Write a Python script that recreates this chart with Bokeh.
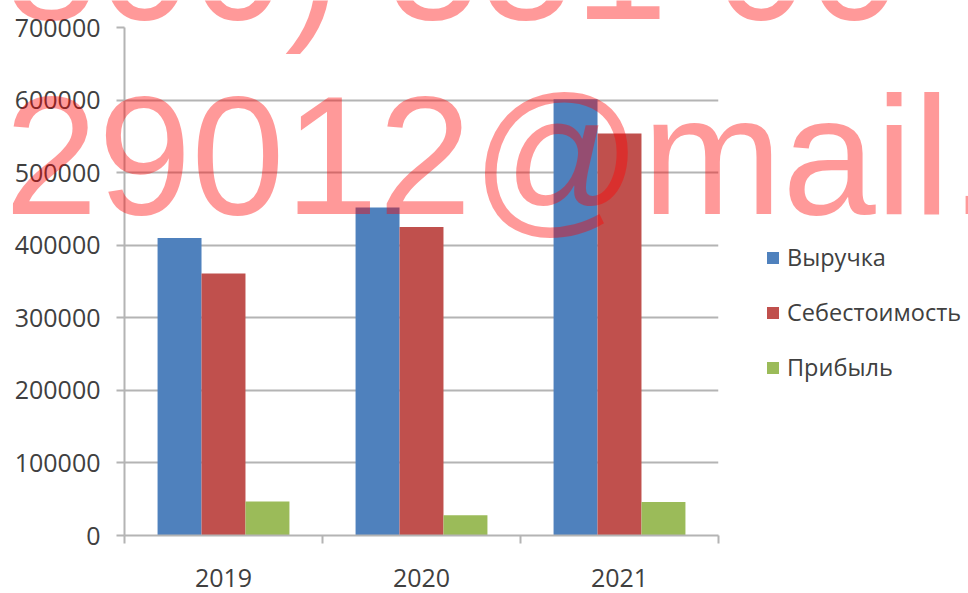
import numpy as np
from bokeh.plotting import figure
from bokeh.models import (Range1d, FixedTicker, Legend, LegendItem,
                          Label, ColumnDataSource, BasicTickFormatter)
from bokeh.transform import dodge
from bokeh.embed import file_html
from bokeh.resources import INLINE

# ---- data ----
years = ["2019", "2020", "2021"]
revenue = [410000, 452000, 601000]
cost = [361000, 425000, 554000]
profit = [47000, 28000, 46000]
series_names = ["Выручка", "Себестоимость", "Прибыль"]
series_colors = ["#4F81BD", "#C0504D", "#9BBB59"]
y_ticks = [0, 100000, 200000, 300000, 400000, 500000, 600000, 700000]
watermark_lines = ["800) 551 00", "29012@mail."]

FONT = "Open Sans"
TXT = "#404040"
GRID = "#b4b4b4"
W, H = 968, 593

centers = np.arange(len(years)) + 0.5
bar_w = 0.222
offsets = [-bar_w, 0.0, bar_w]

src = ColumnDataSource(dict(x=centers, rev=revenue, cost=cost, profit=profit))

p = figure(frame_width=594, frame_height=508,
           x_range=Range1d(0, len(years)), y_range=Range1d(0, y_ticks[-1]),
           output_backend="svg", toolbar_location=None,
           min_border_left=124, min_border_top=27, min_border_right=250,
           min_border_bottom=58)
p.outline_line_color = None
p.background_fill_color = "white"

renderers = []
for field, off, col in zip(["rev", "cost", "profit"], offsets, series_colors):
    r = p.vbar(x=dodge("x", off), top=field, width=bar_w, source=src,
               fill_color=col, line_color=None)
    renderers.append(r)

# y axis
p.yaxis.ticker = FixedTicker(ticks=y_ticks)
p.yaxis.formatter = BasicTickFormatter(use_scientific=False)
p.yaxis.axis_line_color = GRID
p.yaxis.axis_line_width = 2
p.yaxis.major_tick_line_color = GRID
p.yaxis.major_tick_line_width = 2
p.yaxis.major_tick_out = 8
p.yaxis.major_tick_in = 0
p.yaxis.minor_tick_line_color = None
p.yaxis.major_label_text_font = FONT
p.yaxis.major_label_text_font_size = "25px"
p.yaxis.major_label_text_color = TXT
p.yaxis.major_label_standoff = 16

p.ygrid.ticker = FixedTicker(ticks=y_ticks)
p.ygrid.grid_line_color = GRID
p.ygrid.grid_line_width = 2
p.xgrid.visible = False

# x axis: labels at category centres, tick marks at category boundaries
p.xaxis.ticker = FixedTicker(ticks=list(centers),
                             minor_ticks=list(range(len(years) + 1)))
p.xaxis.major_label_overrides = {float(c): y for c, y in zip(centers, years)}
p.xaxis.axis_line_color = GRID
p.xaxis.axis_line_width = 2
p.xaxis.major_tick_line_color = None
p.xaxis.major_tick_out = 0
p.xaxis.major_tick_in = 0
p.xaxis.minor_tick_line_color = GRID
p.xaxis.minor_tick_line_width = 2
p.xaxis.minor_tick_out = 8
p.xaxis.minor_tick_in = 0
p.xaxis.major_label_text_font = FONT
p.xaxis.major_label_text_font_size = "25px"
p.xaxis.major_label_text_color = TXT
p.xaxis.major_label_standoff = 25

legend = Legend(items=[LegendItem(label=n, renderers=[r]) for n, r in zip(series_names, renderers)],
                location=(47, 152), border_line_color=None, background_fill_alpha=0,
                glyph_width=15, glyph_height=15, label_height=30, spacing=23,
                padding=0, margin=0, label_standoff=7,
                label_text_font=FONT, label_text_font_size="23.5px",
                label_text_color=TXT)
p.add_layout(legend, "right")

# watermark overlay: separate transparent root laid over the chart
wm = figure(width=W, height=H, x_range=Range1d(0, W), y_range=Range1d(H, 0),
            output_backend="svg", toolbar_location=None, min_border=0,
            x_axis_location=None, y_axis_location=None,
            margin=(-H, 0, 0, 0))
wm.grid.visible = False
wm.outline_line_color = None
wm.background_fill_alpha = 0
wm.border_fill_alpha = 0
wm.styles = {"z-index": "10", "pointer-events": "none"}
for txt, yy in zip(watermark_lines, [-40, 155]):
    wm.add_layout(Label(x=4, y=yy, text=txt, text_font="Liberation Sans",
                        text_font_size="168px", text_color="red", text_alpha=0.4,
                        text_baseline="middle", text_align="left"))

open("out.html", "w").write(file_html([p, wm], INLINE))
